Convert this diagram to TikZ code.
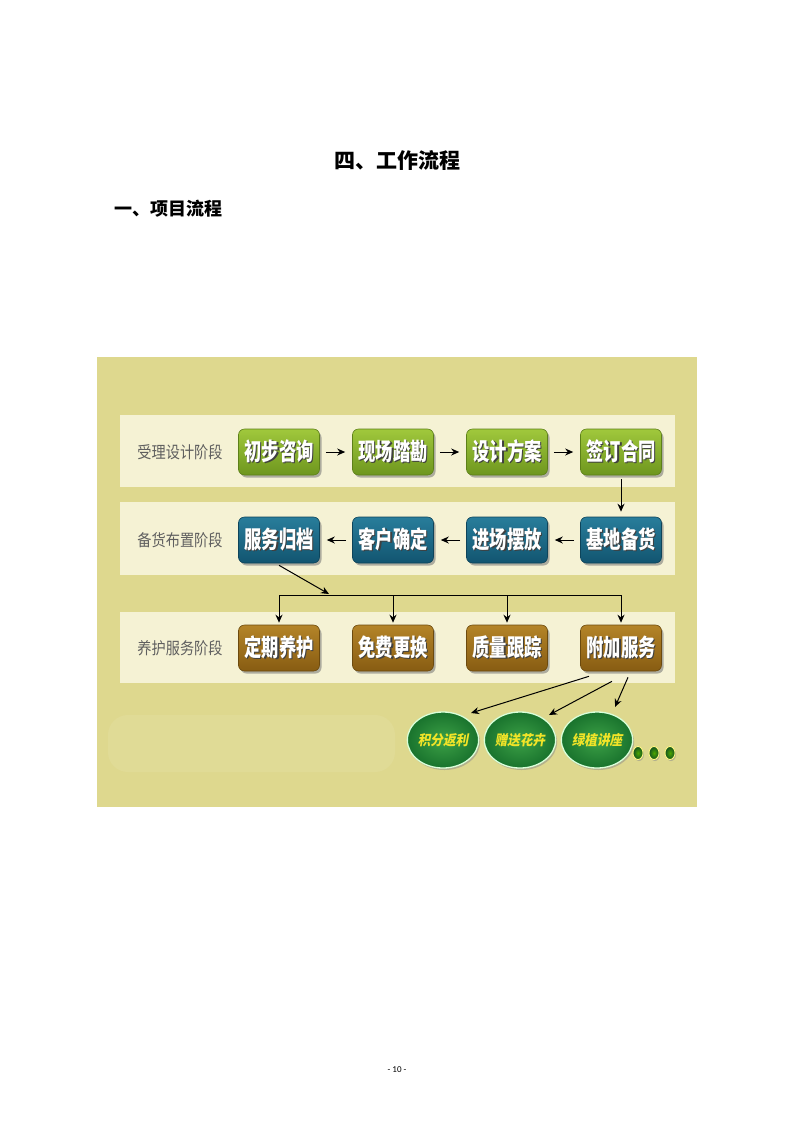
\documentclass[tikz,border=0pt]{standalone}
\usepackage{fontspec}
\newfontfamily\cjk{Noto Sans CJK SC}
\newfontfamily\cjkn{Noto Sans CJK SC}[FakeStretch=0.72]
\newfontfamily\cjkl{Noto Sans CJK SC}[FakeStretch=0.86]
\newfontfamily\cjks{Noto Sans CJK SC}[FakeSlant=0.18,FakeStretch=0.9]
\newfontfamily\footfont{Carlito}
\usetikzlibrary{shadows,arrows.meta,shapes.geometric}
\definecolor{panelbg}{RGB}{222,216,142}
\definecolor{bandbg}{RGB}{245,242,212}
\definecolor{gnodeL}{RGB}{160,200,60}
\definecolor{gnodeD}{RGB}{110,150,30}
\definecolor{bnodeL}{RGB}{40,125,155}
\definecolor{bnodeD}{RGB}{18,85,112}
\definecolor{onodeL}{RGB}{180,132,40}
\definecolor{onodeD}{RGB}{135,92,18}
\definecolor{cnodeL}{RGB}{60,160,70}
\definecolor{cnodeD}{RGB}{25,115,45}
\definecolor{ctext}{RGB}{242,228,40}
\definecolor{stagegray}{RGB}{95,95,95}
\newcommand{\shtext}[1]{\rlap{\hspace{1.3pt}\raisebox{-1.3pt}{\color{black!75}#1}}{\color{white}#1}}
\tikzset{
  stepbox/.style={rounded corners=6pt, minimum width=81pt, minimum height=46pt, inner sep=0pt,
    font=\cjkn\bfseries\fontsize{24}{24}\selectfont, line width=0.6pt,
    drop shadow={shadow xshift=2pt, shadow yshift=-2.5pt, fill=black!55, opacity=0.55}},
  gbox/.style={stepbox, top color=gnodeL, bottom color=gnodeD, draw=gnodeD!85!black},
  bbox/.style={stepbox, top color=bnodeL, bottom color=bnodeD, draw=bnodeD!80!black},
  obox/.style={stepbox, top color=onodeL, bottom color=onodeD, draw=onodeD!80!black},
  stagelbl/.style={font=\cjkl\fontsize{16.5}{16.5}\selectfont, text=stagegray},
  band/.style={fill=bandbg},
  arr/.style={-{Stealth[length=8pt,width=7pt]}, line width=1pt, black},
  plain/.style={line width=1pt, black},
  bonus/.style={ellipse, minimum width=68pt, minimum height=56pt, inner sep=0pt,
    inner color=cnodeL, outer color=cnodeD, draw=green!15!white, line width=1.3pt,
    font=\cjks\bfseries\fontsize{14}{14}\selectfont, text=ctext,
    drop shadow={shadow xshift=1.5pt, shadow yshift=-2pt, fill=black!45, opacity=0.5}},
  dot/.style={ellipse, minimum width=10pt, minimum height=13pt, inner sep=0pt,
    inner color=green!50!black!70!yellow, outer color=cnodeD!70!black, draw=yellow!50!white, line width=0.9pt,
    drop shadow={shadow xshift=1pt, shadow yshift=-1.5pt, fill=black!45, opacity=0.5}},
}
\begin{document}
\begin{tikzpicture}[x=1pt,y=-1pt]
\useasboundingbox (0,0) rectangle (793,1122);
\fill[white] (0,0) rectangle (793,1122);
% headings
\node (title) at (397,160) {\cjk\bfseries\fontsize{21}{21}\selectfont 四、工作流程};
\node[anchor=west] (sub) at (111,209) {\cjk\bfseries\fontsize{18}{18}\selectfont 一、项目流程};
% panel
\fill[panelbg] (97,357) rectangle (697,807);
\fill[white,opacity=0.08,rounded corners=20pt] (108,715) rectangle (395,772);
\fill[band] (120,415) rectangle (675,487);
\fill[band] (120,502) rectangle (675,575);
\fill[band] (120,612) rectangle (675,683);
% stage labels
\node[stagelbl] (s1) at (180,452) {受理设计阶段};
\node[stagelbl] (s2) at (180,540) {备货布置阶段};
\node[stagelbl] (s3) at (180,648) {养护服务阶段};
% row 1
\node[gbox] (n1) at (279,452) {\shtext{初步咨询}};
\node[gbox] (n2) at (393,452) {\shtext{现场踏勘}};
\node[gbox] (n3) at (507,452) {\shtext{设计方案}};
\node[gbox] (n4) at (621,452) {\shtext{签订合同}};
% row 2
\node[bbox] (n5) at (621,540) {\shtext{基地备货}};
\node[bbox] (n6) at (507,540) {\shtext{进场摆放}};
\node[bbox] (n7) at (393,540) {\shtext{客户确定}};
\node[bbox] (n8) at (279,540) {\shtext{服务归档}};
% row 3
\node[obox] (m1) at (279,648) {\shtext{定期养护}};
\node[obox] (m2) at (393,648) {\shtext{免费更换}};
\node[obox] (m3) at (507,648) {\shtext{质量跟踪}};
\node[obox] (m4) at (621,648) {\shtext{附加服务}};
% bonus circles
\node[bonus] (c1) at (443,740) {积分返利};
\node[bonus] (c2) at (520,740) {赠送花卉};
\node[bonus] (c3) at (597,740) {绿植讲座};
\node[dot] (d1) at (638,753) {};
\node[dot] (d2) at (654,753) {};
\node[dot] (d3) at (670,753) {};
% row 1 arrows
\draw[arr] ([xshift=6pt]n1.east) -- ([xshift=-7pt]n2.west);
\draw[arr] ([xshift=6pt]n2.east) -- ([xshift=-7pt]n3.west);
\draw[arr] ([xshift=6pt]n3.east) -- ([xshift=-7pt]n4.west);
% down
\draw[arr] ([yshift=-4pt]n4.south) -- ([yshift=5pt]n5.north);
% row 2 arrows
\draw[arr] ([xshift=-6pt]n5.west) -- ([xshift=7pt]n6.east);
\draw[arr] ([xshift=-6pt]n6.west) -- ([xshift=7pt]n7.east);
\draw[arr] ([xshift=-6pt]n7.west) -- ([xshift=7pt]n8.east);
% branch
\coordinate (hl) at (279,595);
\coordinate (hr) at (621,595);
\coordinate (hm) at (329,594);
\draw[plain] (hl) -- (hr);
\draw[arr] ([yshift=-2pt]n8.south) -- (hm);
\draw[arr] (m1.north |- hl) -- ([yshift=2pt]m1.north);
\draw[arr] (m2.north |- hl) -- ([yshift=2pt]m2.north);
\draw[arr] (m3.north |- hl) -- ([yshift=2pt]m3.north);
\draw[arr] (m4.north |- hl) -- ([yshift=2pt]m4.north);
% to bonus circles
\draw[arr] ([xshift=-32pt,yshift=-5pt]m4.south) -- ([xshift=28pt,yshift=27pt]c1.center);
\draw[arr] ([xshift=-9pt,yshift=-10pt]m4.south) -- ([xshift=29pt,yshift=25pt]c2.center);
\draw[arr] ([xshift=7pt,yshift=-6pt]m4.south) -- ([xshift=18pt,yshift=33pt]c3.center);
% footer
\node (foot) at (397,1070) {\footfont\fontsize{9}{9}\selectfont - 10 -};
\end{tikzpicture}
\end{document}
